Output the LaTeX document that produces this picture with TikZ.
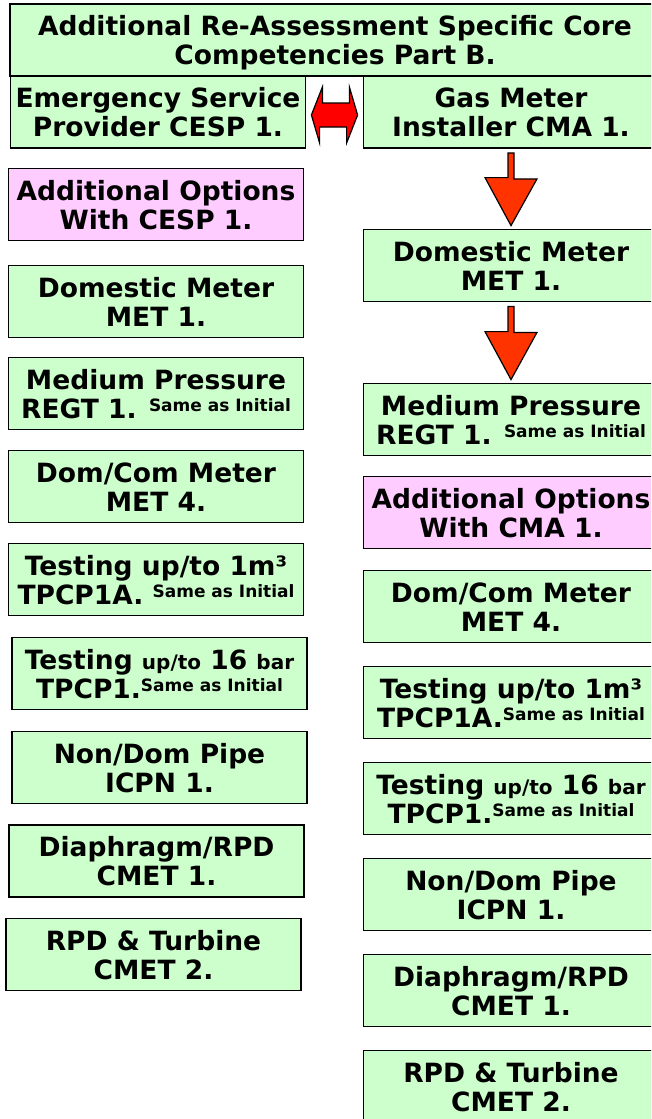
\documentclass[tikz,border=0pt]{standalone}
\usepackage{fontspec}
\setmainfont{DejaVu Sans}
\usetikzlibrary{calc}
\definecolor{boxgreen}{HTML}{CCFFCC}
\definecolor{boxpink}{HTML}{FFCCFF}
\definecolor{arrred}{HTML}{FF0000}
\definecolor{arrorange}{HTML}{FF3300}
\newcommand{\sai}{\raisebox{7pt}{\fontsize{17}{17}\selectfont Same as Initial}}
\newcommand{\smtxt}[1]{{\fontsize{20}{20}\selectfont #1}}
\tikzset{
	greenbox/.style={draw=black, line width=1.8pt, fill=boxgreen, minimum width=295pt, minimum height=72pt,
		inner sep=2pt, align=center, text height=52pt, text depth=3pt,
		font=\bfseries\fontsize{26.5}{29}\selectfont},
	pinkbox/.style={greenbox, fill=boxpink},
	blockarr/.style={draw=black, line width=1.2pt, line join=miter}
}
\begin{document}
\begin{tikzpicture}[x=1pt, y=-1pt]
	\useasboundingbox (0,0) rectangle (651,1119);
	\clip (0,0) rectangle (651,1119);
	
	% Title and the two routes
	\node[greenbox, minimum width=650pt] (title) at (335,40) {Additional Re-Assessment Specific Core\\Competencies Part B.};
	\node[greenbox] (esp) at (158,112) {Emergency Service\\Provider CESP 1.};
	\node[greenbox] (gas) at (511,112) {Gas Meter\\Installer CMA 1.};
	
	% Left column (CESP 1.)
	\node[pinkbox] (optL) at (156,204.5) {Additional Options\\With CESP 1.};
	\node[greenbox] (domL) at (156,301.5) {Domestic Meter\\MET 1.};
	\node[greenbox] (mpL) at (156,393.5) {Medium Pressure\\REGT 1. \sai};
	\node[greenbox] (dcL) at (156,486.5) {Dom/Com Meter\\MET 4.};
	\node[greenbox] (tpaL) at (156,579.5) {Testing up/to 1m³\\TPCP1A. \sai};
	\node[greenbox] (tpL) at (159.5,673.5) {Testing \smtxt{up/to} 16 \smtxt{bar}\\TPCP1.\sai};
	\node[greenbox] (ndL) at (159.5,767.5) {Non/Dom Pipe\\ICPN 1.};
	\node[greenbox] (diaL) at (156.5,861) {Diaphragm/RPD\\CMET 1.};
	\node[greenbox] (rpdL) at (153.5,954.5) {RPD \& Turbine\\CMET 2.};
	
	% Right column (CMA 1.)
	\node[greenbox] (domR) at (511,265.5) {Domestic Meter\\MET 1.};
	\node[greenbox] (mpR) at (511,419.5) {Medium Pressure\\REGT 1. \sai};
	\node[pinkbox] (optR) at (511,512.5) {Additional Options\\With CMA 1.};
	\node[greenbox] (dcR) at (511,606.5) {Dom/Com Meter\\MET 4.};
	\node[greenbox] (tpaR) at (511,702.5) {Testing up/to 1m³\\TPCP1A.\sai};
	\node[greenbox] (tpR) at (511,798.5) {Testing \smtxt{up/to} 16 \smtxt{bar}\\TPCP1.\sai};
	\node[greenbox] (ndR) at (511,894.5) {Non/Dom Pipe\\ICPN 1.};
	\node[greenbox] (diaR) at (511,990.5) {Diaphragm/RPD\\CMET 1.};
	\node[greenbox] (rpdR) at (511,1086.5) {RPD \& Turbine\\CMET 2.};
	
	% Double arrow between the routes
	\draw[blockarr, fill=arrred] ($(esp.east)+(5,3)$) -- ++(11,-28) -- ++(0,16) -- ++(27,0) -- ++(0,-16)
		-- ($(gas.west)+(-5,3)$) -- ++(-11,28) -- ++(0,-16) -- ++(-27,0) -- ++(0,16) -- cycle;
	
	% Down arrows
	\foreach \a/\b in {gas/domR, domR/mpR}
		\draw[blockarr, fill=arrorange] ($(\a.south)+(-3,4)$) -- ++(6,0) -- ++(0,26) -- ++(23,0)
			-- ($(\b.north)+(0,-3)$) -- ++(-26,-48) -- ++(23,0) -- cycle;
\end{tikzpicture}
\end{document}
